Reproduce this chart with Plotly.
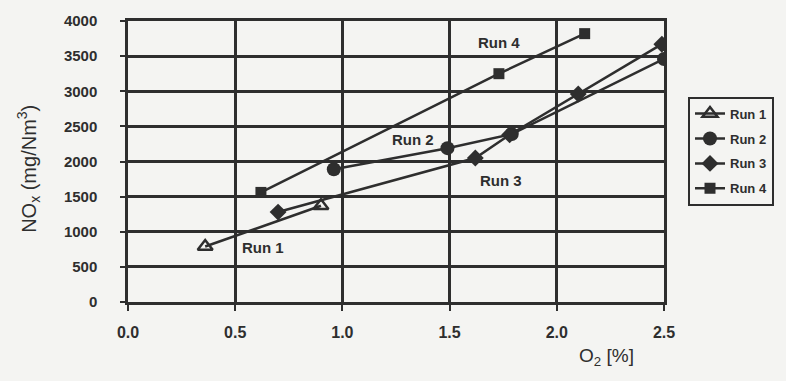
import plotly.graph_objects as go

# NOx emission vs. O2 content in flue gas, four runs
run1_o2 = [0.36, 0.90]
run1_nox = [790, 1370]

run2_o2 = [0.96, 1.49, 1.79, 2.50]
run2_nox = [1890, 2190, 2390, 3460]

run3_o2 = [0.70, 1.62, 1.78, 2.10, 2.49]
run3_nox = [1280, 2050, 2380, 2960, 3670]

run4_o2 = [0.62, 1.73, 2.13]
run4_nox = [1560, 3250, 3820]

series_names = ["Run 1", "Run 2", "Run 3", "Run 4"]

# in-plot labels (text, x, y)
label_text = ["Run 1", "Run 2", "Run 3", "Run 4"]
label_x = [0.63, 1.33, 1.74, 1.73]
label_y = [780, 2320, 1736, 3694]

x_ticks = [0.0, 0.5, 1.0, 1.5, 2.0, 2.5]
x_ticklabels = ["0.0", "0.5", "1.0", "1.5", "2.0", "2.5"]
y_ticks = [0, 500, 1000, 1500, 2000, 2500, 3000, 3500, 4000]

INK = "#2e2e2e"
PAPER = "#f4f4f2"
FONT = "Liberation Sans, Arial, sans-serif"

fig = go.Figure()

styles = [
    dict(symbol="triangle-up-open", size=13, line=dict(width=2.5, color=INK)),
    dict(symbol="circle", size=14, line=dict(width=0)),
    dict(symbol="diamond", size=13, line=dict(width=0)),
    dict(symbol="square", size=11, line=dict(width=0)),
]
data = [(run1_o2, run1_nox), (run2_o2, run2_nox), (run3_o2, run3_nox), (run4_o2, run4_nox)]

for name, (xs, ys), st in zip(series_names, data, styles):
    fig.add_trace(go.Scatter(
        x=xs, y=ys, name=name, mode="lines+markers",
        line=dict(color=INK, width=2.5),
        marker=dict(color=INK, **st),
        legendgroup=name,
    ))

for t, x, y in zip(label_text, label_x, label_y):
    fig.add_annotation(x=x, y=y, text=t, showarrow=False,
                       font=dict(family=FONT, size=15, color=INK, weight="bold"))

# axis titles
fig.add_annotation(xref="paper", yref="paper", x=(577 - 128) / 536, y=(302 - 372) / 286,
                   xanchor="left",
                   text="O<sub>2</sub> [%]", showarrow=False,
                   font=dict(family=FONT, size=19, color=INK))
fig.add_annotation(xref="paper", yref="paper", x=(12 - 128) / 536, y=(302 - 167) / 286,
                   text="NO<sub>x</sub> (mg/Nm<sup>3</sup>)", showarrow=False, textangle=-90,
                   font=dict(family=FONT, size=20, color=INK))

fig.update_xaxes(
    range=[0, 2.5], tickvals=x_ticks, ticktext=x_ticklabels,
    showgrid=True, gridcolor=INK, gridwidth=2.5,
    showline=True, linecolor=INK, linewidth=2.5, mirror=True,
    ticks="outside", ticklen=6, tickwidth=2, tickcolor=INK,
    ticklabelstandoff=8,
    tickfont=dict(family=FONT, size=16, color=INK, weight="bold"),
    zeroline=False,
)
fig.update_yaxes(
    range=[0, 4000], tickvals=y_ticks,
    showgrid=True, gridcolor=INK, gridwidth=2.5,
    showline=True, linecolor=INK, linewidth=2.5, mirror=True,
    ticks="outside", ticklen=5, tickwidth=2, tickcolor=INK,
    ticklabelstandoff=20,
    tickfont=dict(family=FONT, size=15, color=INK, weight="bold"),
    zeroline=False,
)

fig.update_layout(
    width=786, height=381,
    margin=dict(l=128, r=122, t=16, b=79),
    paper_bgcolor=PAPER, plot_bgcolor=PAPER,
    showlegend=True,
    legend=dict(
        x=(688 - 128) / 536, y=(302 - 93) / 286, xanchor="left", yanchor="top",
        bgcolor=PAPER, bordercolor=INK, borderwidth=2,
        font=dict(family=FONT, size=13, color=INK, weight="bold"),
        tracegroupgap=5, itemwidth=30,
    ),
)

fig.write_html("out.html")
